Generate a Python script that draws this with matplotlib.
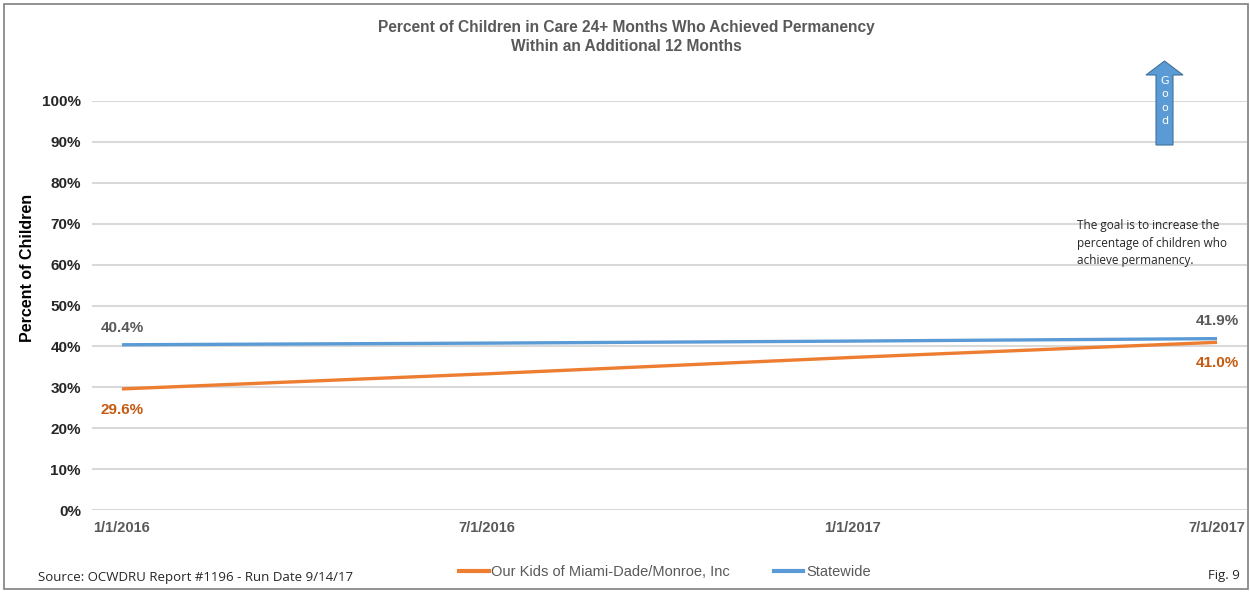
import matplotlib.pyplot as plt
from matplotlib.patches import Polygon, Rectangle
from matplotlib.lines import Line2D

plt.rcParams['font.family'] = ['Liberation Sans', 'DejaVu Sans']

dates = ['1/1/2016', '7/1/2016', '1/1/2017', '7/1/2017']
our_kids = [29.6, 33.3, 37.3, 41.0]
statewide = [40.4, 40.8, 41.3, 41.9]
yticks = [0, 10, 20, 30, 40, 50, 60, 70, 80, 90, 100]

orange = '#ED7D31'
blue = '#5B9BD5'

W, H = 1250, 592
fig = plt.figure(figsize=(W / 100, H / 100), dpi=100)

def fx(px):
    return px / W

def fy(py):
    return 1 - py / H

# border around the whole picture
fig.patches.append(Rectangle((fx(4), fy(589)), fx(1244), 585 / H, transform=fig.transFigure,
                             fill=False, edgecolor='#7F7F7F', lw=1.2))

ax = fig.add_axes([fx(92), fy(510), fx(1247) - fx(92), (510 - 101) / H])
x = list(range(len(dates)))
ax.plot(x, statewide, color=blue, lw=2.4, solid_capstyle='butt', zorder=3)
ax.plot(x, our_kids, color=orange, lw=2.4, solid_capstyle='butt', zorder=3)

ax.set_xlim(-0.082, 3.082)
ax.set_ylim(0, 100)
ax.set_yticks(yticks)
ax.set_yticklabels([f'{v}%' for v in yticks], fontsize=11, fontweight='bold', color='#262626')
ax.set_xticks(x)
ax.set_xticklabels(dates, fontsize=10.5, fontweight='bold', color='#595959')
ax.tick_params(length=0, axis='y', pad=8)
ax.tick_params(length=0, axis='x', pad=8)
ax.grid(axis='y', color='#D9D9D9', lw=1.5)
ax.set_axisbelow(True)
for s in ax.spines.values():
    s.set_visible(False)
fig.text(fx(28), fy(268), 'Percent of Children', rotation=90, ha='center', va='center',
         fontsize=11.5, fontweight='bold', color='black')

# data labels at the ends
ax.annotate(f'{statewide[0]}%', (x[0], statewide[0]), xytext=(0, 7), textcoords='offset points',
            ha='center', va='bottom', fontsize=11, color='#595959', fontweight='bold')
ax.annotate(f'{our_kids[0]}%', (x[0], our_kids[0]), xytext=(0, -10), textcoords='offset points',
            ha='center', va='top', fontsize=11, color='#C55A11', fontweight='bold')
ax.annotate(f'{statewide[-1]}%', (x[-1], statewide[-1]), xytext=(0, 8), textcoords='offset points',
            ha='center', va='bottom', fontsize=11, color='#595959', fontweight='bold')
ax.annotate(f'{our_kids[-1]}%', (x[-1], our_kids[-1]), xytext=(0, -10), textcoords='offset points',
            ha='center', va='top', fontsize=11, color='#C55A11', fontweight='bold')

# title
fig.text(fx(626), fy(37), 'Percent of Children in Care 24+ Months Who Achieved Permanency\nWithin an Additional 12 Months',
         ha='center', va='center', fontsize=11.2, fontweight='bold', color='#595959', linespacing=1.3)

# "Good" arrow
pts = [(1156, 145), (1173, 145), (1173, 75), (1183, 75), (1164.5, 61), (1146, 75), (1156, 75)]
fig.patches.append(Polygon([(fx(a), fy(b)) for a, b in pts], closed=True, transform=fig.transFigure,
                           facecolor=blue, edgecolor='#41719C', lw=0.8))
fig.text(fx(1164.5), fy(101), 'G\no\no\nd', ha='center', va='center', fontsize=8, color='white',
         linespacing=1.45, family='DejaVu Sans')

fig.text(fx(1077), fy(243), 'The goal is to increase the\npercentage of children who\nachieve permanency.',
         ha='left', va='center', fontsize=8.5, color='#262626', linespacing=1.45, family='Open Sans')

# legend
leg_handles = [Line2D([], [], color=orange, lw=3), Line2D([], [], color=blue, lw=3)]
fig.legend(leg_handles, ['Our Kids of Miami-Dade/Monroe, Inc', 'Statewide'], loc='center',
           bbox_to_anchor=(fx(665), fy(572)), ncol=2, frameon=False, fontsize=10.5,
           handlelength=2, handletextpad=0.2, columnspacing=3, labelcolor='#595959')

fig.text(fx(38), fy(577), 'Source: OCWDRU Report #1196 - Run Date 9/14/17', ha='left', va='center',
         fontsize=9.5, color='#262626', family='Open Sans')
fig.text(fx(1240), fy(575), 'Fig. 9', ha='right', va='center', fontsize=9.5, color='#262626',
         family='Open Sans')

fig.savefig('out.png', dpi=100)
